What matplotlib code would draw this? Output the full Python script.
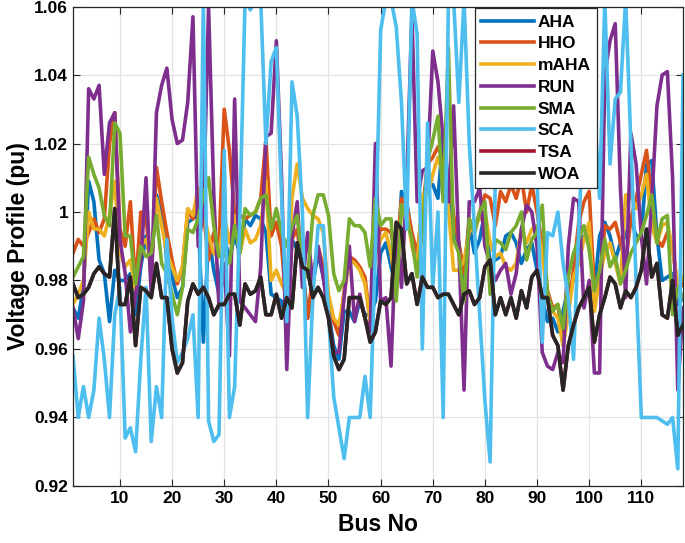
# Profil de tension par bus - comparaison des algorithmes
import matplotlib
matplotlib.use("Agg")
import numpy as np
import matplotlib.pyplot as plt

OUT_FIG = "out.png"

bus = list(range(1, 119))

aha = [0.972, 0.969, 0.978, 1.009, 1.003, 0.986, 0.982, 0.968, 0.983, 0.980,
       0.980, 0.982, 0.970, 0.984, 0.993, 0.984, 1.005, 1.000, 0.986, 0.981,
       0.975, 0.978, 0.997, 0.998, 0.999, 0.962, 0.993, 0.983, 0.976, 0.993,
       0.986, 0.993, 0.988, 0.998, 0.996, 0.999, 0.998, 0.994, 0.976, 0.975,
       0.974, 0.968, 0.992, 0.989, 0.985, 0.969, 0.979, 0.988, 0.981, 0.971,
       0.961, 0.957, 0.971, 0.971, 0.968, 0.974, 0.970, 0.970, 0.974, 0.988,
       0.991, 0.984, 0.978, 1.006, 1.003, 0.993, 0.983, 1.003, 1.008, 1.008,
       1.004, 1.023, 1.008, 0.994, 0.991, 0.977, 0.996, 0.988, 0.992, 1.000,
       0.985, 0.986, 0.987, 0.993, 0.994, 0.991, 0.985, 0.989, 0.991, 0.983,
       0.975, 0.968, 0.969, 0.965, 0.971, 0.978, 0.980, 0.989, 0.993, 0.993,
       0.977, 0.993, 0.997, 0.993, 0.986, 0.991, 0.993, 0.998, 0.993, 0.993,
       1.014, 1.015, 0.993, 0.980, 0.981, 0.982, 0.973, 0.975]

hho = [0.988, 0.992, 0.990, 0.994, 0.998, 0.994, 0.998, 1.020, 1.029, 0.995,
       0.990, 1.003, 0.978, 1.000, 0.999, 0.980, 1.013, 1.003, 0.994, 0.986,
       0.979, 0.984, 1.000, 0.998, 1.005, 1.000, 0.986, 0.994, 0.990, 1.030,
       1.018, 0.999, 0.999, 0.998, 0.999, 1.000, 1.004, 1.021, 0.993, 0.997,
       0.990, 0.970, 0.992, 0.995, 0.983, 0.969, 0.982, 0.990, 0.984, 0.974,
       0.968, 0.964, 0.977, 0.987, 0.986, 0.984, 0.981, 0.968, 0.990, 0.995,
       0.995, 0.994, 0.986, 1.004, 1.002, 0.994, 0.988, 1.000, 1.014, 1.016,
       1.019, 1.015, 1.011, 0.999, 0.991, 0.982, 0.998, 0.994, 1.000, 1.005,
       1.004, 0.996, 1.006, 1.003, 1.008, 1.004, 1.010, 1.000, 1.008, 1.000,
       0.990, 0.977, 0.972, 0.973, 0.961, 0.972, 0.983, 0.997, 1.003, 1.006,
       0.977, 0.979, 0.996, 0.995, 0.997, 0.991, 0.985, 0.998, 1.004, 1.011,
       1.018, 1.004, 0.992, 0.990, 0.994, 0.990, 0.977, 0.979]

maha = [0.973, 0.976, 0.980, 1.000, 0.995, 0.995, 0.993, 0.999, 1.009, 0.988,
        0.984, 0.986, 0.977, 0.990, 0.992, 0.986, 1.004, 0.996, 0.988, 0.984,
        0.980, 0.984, 1.001, 0.999, 1.007, 1.000, 0.993, 0.988, 0.987, 0.999,
        0.991, 0.999, 0.988, 0.995, 0.991, 0.992, 0.996, 1.009, 0.980, 0.983,
        0.979, 0.976, 1.004, 1.014, 1.004, 1.001, 0.999, 0.998, 0.994, 0.976,
        0.969, 0.967, 0.976, 0.986, 0.985, 0.983, 0.979, 0.968, 0.988, 0.992,
        0.994, 0.988, 0.976, 1.002, 1.000, 0.990, 0.984, 1.005, 1.005, 1.011,
        1.016, 1.011, 1.001, 0.983, 0.983, 0.986, 0.994, 0.996, 0.998, 1.000,
        0.991, 0.987, 0.988, 0.984, 0.983, 0.985, 0.995, 0.991, 0.995, 0.996,
        0.988, 0.974, 0.971, 0.969, 0.961, 0.970, 0.981, 0.985, 0.992, 0.997,
        0.971, 0.981, 0.988, 0.991, 0.985, 0.979, 1.005, 1.005, 1.001, 1.005,
        1.011, 0.996, 0.991, 0.996, 0.997, 0.989, 0.979, 0.981]

run = [0.972, 0.963, 0.974, 1.036, 1.033, 1.037, 1.011, 1.026, 1.029, 0.992,
       0.982, 0.965, 0.976, 0.985, 1.010, 0.976, 1.029, 1.037, 1.042, 1.027,
       1.020, 1.021, 1.032, 1.057, 0.990, 1.000, 1.060, 1.005, 0.972, 0.985,
       0.958, 1.033, 0.974, 0.972, 0.970, 0.968, 0.984, 1.022, 1.023, 1.050,
       1.010, 0.954, 0.993, 1.003, 0.978, 0.994, 0.979, 0.990, 0.981, 0.970,
       0.959, 0.959, 0.975, 0.990, 0.968, 0.976, 0.969, 0.965, 1.020, 0.974,
       0.975, 0.955, 0.996, 0.978, 1.008, 1.058, 1.003, 1.012, 1.013, 1.047,
       1.038, 1.021, 1.003, 1.031, 0.990, 0.948, 1.003, 1.003, 1.007, 0.990,
       0.985, 0.980, 0.983, 0.985, 0.976, 0.982, 0.995, 1.002, 1.000, 0.990,
       0.959, 0.955, 0.954, 0.959, 0.956, 0.990, 1.004, 1.003, 0.972, 0.980,
       0.953, 0.953, 1.040, 1.050, 1.055, 1.007, 0.975, 1.023, 1.014, 0.993,
       0.979, 1.003, 1.031, 1.040, 1.041, 1.010, 0.948, 0.972]

sma = [0.981, 0.984, 0.987, 1.016, 1.011, 1.007, 0.999, 0.996, 1.026, 1.023,
       0.993, 0.993, 0.979, 0.990, 0.987, 0.988, 0.999, 0.985, 0.982, 0.976,
       0.970, 0.978, 0.995, 0.994, 0.998, 1.005, 1.010, 0.996, 0.987, 0.988,
       0.985, 0.996, 0.988, 1.001, 0.999, 1.000, 1.004, 1.005, 0.995, 1.001,
       0.994, 0.990, 0.996, 0.999, 0.985, 0.981, 0.999, 1.005, 1.005, 0.999,
       0.982, 0.977, 0.980, 0.998, 0.996, 0.996, 0.994, 0.984, 1.004, 0.996,
       0.998, 0.998, 0.974, 1.002, 0.998, 0.992, 0.981, 0.994, 1.015, 1.021,
       1.028, 1.003, 1.048, 0.992, 0.988, 0.974, 0.998, 0.994, 1.000, 1.003,
       0.976, 0.992, 0.991, 0.989, 0.994, 0.996, 1.000, 0.986, 0.992, 0.994,
       1.002, 0.976, 0.971, 0.973, 0.966, 0.981, 0.988, 0.992, 0.996, 0.989,
       0.977, 0.983, 0.992, 0.984, 0.987, 0.979, 0.983, 0.988, 0.991, 0.994,
       0.999, 1.005, 0.991, 0.998, 0.999, 0.970, 0.978, 0.975]

sca = [0.958, 0.940, 0.949, 0.940, 0.948, 0.969, 0.957, 0.940, 0.970, 0.978,
       0.934, 0.937, 0.930, 0.957, 0.978, 0.933, 0.949, 0.940, 0.992, 0.969,
       0.956, 0.959, 0.963, 0.970, 0.940, 1.062, 0.939, 0.933, 0.935, 1.018,
       0.940, 0.949, 0.999, 1.062, 1.059, 1.062, 1.062, 1.020, 1.044, 1.048,
       1.005, 0.968, 1.038, 1.028, 1.000, 0.940, 0.975, 0.996, 0.996, 0.970,
       0.946, 0.937, 0.928, 0.940, 0.940, 0.940, 0.952, 0.940, 0.989, 1.053,
       1.062, 1.062, 1.054, 1.032, 0.995, 1.062, 1.052, 0.960, 1.026, 0.978,
       1.000, 0.940, 1.062, 1.062, 1.032, 1.062, 1.020, 0.995, 0.970, 0.945,
       0.927, 1.010, 1.050, 1.040, 1.062, 1.040, 1.062, 1.040, 1.062, 1.010,
       0.962, 0.994, 0.993, 1.000, 0.985, 0.975, 0.957, 0.995, 1.030, 1.062,
       1.030, 1.004, 1.062, 1.014, 1.033, 1.035, 1.062, 1.020, 0.980, 0.940,
       0.940, 0.940, 0.940, 0.939, 0.938, 0.940, 0.925, 1.040]

woa = [0.979, 0.975, 0.976, 0.978, 0.982, 0.984, 0.982, 0.981, 1.001, 0.973,
       0.973, 0.981, 0.961, 0.978, 0.977, 0.975, 0.985, 0.975, 0.975, 0.960,
       0.953, 0.956, 0.974, 0.979, 0.976, 0.978, 0.975, 0.970, 0.973, 0.973,
       0.976, 0.976, 0.967, 0.979, 0.976, 0.977, 0.981, 0.970, 0.970, 0.976,
       0.969, 0.975, 0.972, 0.991, 0.984, 0.983, 0.975, 0.978, 0.975, 0.969,
       0.958, 0.954, 0.957, 0.975, 0.975, 0.975, 0.969, 0.962, 0.965, 0.974,
       0.973, 0.975, 0.997, 0.995, 0.979, 0.982, 0.973, 0.981, 0.978, 0.978,
       0.975, 0.976, 0.976, 0.973, 0.970, 0.976, 0.977, 0.973, 0.975, 0.984,
       0.986, 0.970, 0.975, 0.970, 0.975, 0.969, 0.977, 0.972, 0.981, 0.983,
       0.975, 0.975, 0.964, 0.961, 0.948, 0.961, 0.967, 0.972, 0.975, 0.978,
       0.962, 0.970, 0.975, 0.981, 0.979, 0.972, 0.977, 0.975, 0.978, 0.983,
       0.995, 0.981, 0.985, 0.970, 0.969, 0.980, 0.964, 0.967]

# TSA est entièrement masqué par WOA (tracé en dernier)
tsa = list(woa)

series = [
    ("AHA", aha, "#0072BD"),
    ("HHO", hho, "#D95319"),
    ("mAHA", maha, "#EDB120"),
    ("RUN", run, "#7E2F8E"),
    ("SMA", sma, "#77AC30"),
    ("SCA", sca, "#4DBEEE"),
    ("TSA", tsa, "#A2142F"),
    ("WOA", woa, "#262626"),
]

plt.rcParams["font.family"] = ["Liberation Sans", "DejaVu Sans"]
plt.rcParams["font.weight"] = "bold"

fig = plt.figure(figsize=(6.85, 5.43), dpi=100)
ax = fig.add_axes([0.1066, 0.105, 0.8905, 0.883])

for name, vals, col in series:
    ax.plot(bus, vals, color=col, lw=2.6, label=name)

ax.set_xlim(1, 118)
ax.set_ylim(0.92, 1.06)
ax.set_xticks(range(10, 111, 10))
yt = [0.92, 0.94, 0.96, 0.98, 1.0, 1.02, 1.04, 1.06]
ax.set_yticks(yt)
ax.set_yticklabels(["0.92", "0.94", "0.96", "0.98", "1", "1.02", "1.04", "1.06"])
ax.tick_params(direction="in", top=True, right=True, labelsize=12.5,
               length=5, width=0.8, colors="#262626")
for lab in ax.get_xticklabels() + ax.get_yticklabels():
    lab.set_fontweight("bold")
    lab.set_color("black")
ax.grid(True, color="#e3e3e3", lw=0.9)
ax.set_axisbelow(True)
for sp in ax.spines.values():
    sp.set_color("#262626")
    sp.set_linewidth(0.9)

ax.set_xlabel("Bus No", fontsize=16.5, fontweight="bold", labelpad=5)
ax.set_ylabel("Voltage Profile (pu)", fontsize=16.5, fontweight="bold", labelpad=3)

leg = ax.legend(loc="upper right", bbox_to_anchor=(0.862, 1.0), fontsize=12.5,
                handlelength=3.0, handletextpad=0.25, labelspacing=0.38,
                borderpad=0.36, fancybox=False, framealpha=1,
                edgecolor="#262626", borderaxespad=0.1)
leg.get_frame().set_linewidth(0.9)
for t in leg.get_texts():
    t.set_fontweight("bold")

fig.savefig(OUT_FIG, dpi=100)
plt.close(fig)
print("Figure sauvegardée :", OUT_FIG)
